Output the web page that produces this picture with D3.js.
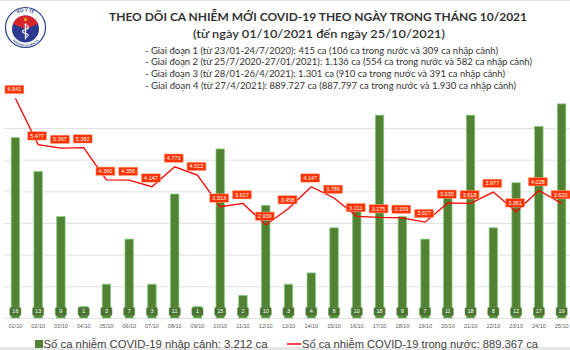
<!DOCTYPE html>
<html>
<head>
<meta charset="utf-8">
<script src="https://cdn.jsdelivr.net/npm/d3@7"></script>
<style>
  body { margin: 0; background: #fff; }
  svg { display: block; }
</style>
</head>
<body>
<div id="chart"></div>
<script>
// days of October 2021
const days = ['01/10','02/10','03/10','04/10','05/10','06/10','07/10','08/10','09/10','10/10',
              '11/10','12/10','13/10','14/10','15/10','16/10','17/10','18/10','19/10','20/10',
              '21/10','22/10','23/10','24/10','25/10'];
// imported cases (green bars)
const imported = [16,13,9,1,3,7,3,11,1,15,2,10,3,4,8,10,18,9,7,11,18,8,12,17,19];
// domestic cases (red line)
const domestic = [6941,5477,5367,5382,4360,4356,4147,4773,4512,3513,3617,2939,3458,4147,3789,
                  3211,3175,3159,3027,3635,3618,3977,3361,4028,3620];
const gridTicks = [0,1000,2000,3000,4000,5000,6000];

const titleText = 'THEO DÕI CA NHIỄM MỚI COVID-19 THEO NGÀY TRONG THÁNG 10/2021';
const subtitleText = '(từ ngày 01/10/2021 đến ngày 25/10/2021)';
const phases = [
  '- Giai đoạn 1 (từ 23/01-24/7/2020): 415 ca (106 ca trong nước và 309 ca nhập cảnh)',
  '- Giai đoạn 2 (từ 25/7/2020-27/01/2021): 1.136 ca (554 ca trong nước và 582 ca nhập cảnh)',
  '- Giai đoạn 3 (từ 28/01-26/4/2021): 1.301 ca (910 ca trong nước và 391 ca nhập cảnh)',
  '- Giai đoạn 4 (từ 27/4/2021): 889.727 ca (887.797 ca trong nước và 1.930 ca nhập cảnh)'
];
const legendBars = 'Số ca nhiễm COVID-19 nhập cảnh: 3.212 ca';
const legendLine = 'Số ca nhiễm COVID-19 trong nước: 889.367 ca';

const width = 570, height = 350;
const fmt = v => d3.format(',')(v).replace(/,/g, '.');

const svg = d3.select('#chart').append('svg')
    .attr('width', width)
    .attr('height', height)
    .style('font-family', 'Lato, "Open Sans", sans-serif');

// thin frame lines top and bottom
svg.append('rect').attr('x', 0).attr('y', 0).attr('width', width).attr('height', 1).attr('fill', '#e4e4e4');
svg.append('rect').attr('x', 0).attr('y', 347).attr('width', width).attr('height', 3).attr('fill', '#e6e6e6');

// scales
const x = d3.scaleBand()
    .domain(days)
    .range([4, 573])
    .paddingInner(0.63)
    .paddingOuter(0.315);

const yBar = d3.scaleLinear().domain([0, 20]).range([318, 92.6]);
const yLine = d3.scaleLinear().domain([0, 6000]).range([318, 128]);

// gridlines
const grid = svg.append('g')
    .attr('transform', 'translate(4,0)')
    .call(d3.axisLeft(yLine).tickValues(gridTicks).tickSize(-566).tickFormat(''));
grid.select('.domain').remove();
grid.selectAll('line').attr('stroke', '#d9d9d9').attr('stroke-width', 0.8);

// x axis labels
const xAxis = svg.append('g')
    .attr('transform', 'translate(0,321)')
    .call(d3.axisBottom(x).tickSize(0));
xAxis.select('.domain').remove();
xAxis.selectAll('text')
    .attr('fill', '#595959')
    .attr('font-size', 5.5)
    .attr('font-family', '"Liberation Sans", Arial, sans-serif');

// bars
svg.append('g').selectAll('rect')
    .data(imported)
    .join('rect')
    .attr('x', (d, i) => x(days[i]))
    .attr('y', d => yBar(d))
    .attr('width', x.bandwidth())
    .attr('height', d => yBar(0) - yBar(d))
    .attr('fill', '#548235')
    .attr('stroke', '#7fd27f')
    .attr('stroke-width', 0.7);

// bar value boxes
const barLab = svg.append('g').selectAll('g')
    .data(imported)
    .join('g')
    .attr('transform', (d, i) => `translate(${x(days[i]) + x.bandwidth() / 2},311.5)`);
barLab.append('rect')
    .attr('x', -5.6).attr('y', -4.2)
    .attr('width', 11.2).attr('height', 8.4)
    .attr('rx', 1.5)
    .attr('fill', '#4a7530')
    .attr('stroke', '#6f9a55')
    .attr('stroke-width', 0.5);
barLab.append('text')
    .attr('text-anchor', 'middle')
    .attr('dy', '0.35em')
    .attr('fill', '#fff')
    .attr('font-size', 5.5)
    .attr('font-family', '"Liberation Sans", Arial, sans-serif')
    .text(d => d);

// domestic line
const line = d3.line()
    .x((d, i) => x(days[i]) + x.bandwidth() / 2)
    .y(d => yLine(d));

svg.append('path')
    .datum(domestic)
    .attr('d', line)
    .attr('fill', 'none')
    .attr('stroke', '#ff0000')
    .attr('stroke-width', 1.3);

// line value boxes
const lineLab = svg.append('g').selectAll('g')
    .data(domestic)
    .join('g')
    .attr('transform', (d, i) => `translate(${x(days[i]) + x.bandwidth() / 2 - 1},${yLine(d) - 8.7})`);
lineLab.append('rect')
    .attr('x', -9.5).attr('y', -4.2)
    .attr('width', 19).attr('height', 8.4)
    .attr('fill', '#ff3300')
    .attr('stroke', '#ffb199')
    .attr('stroke-width', 0.5);
lineLab.append('text')
    .attr('text-anchor', 'middle')
    .attr('dy', '0.35em')
    .attr('fill', '#fff')
    .attr('font-size', 5.5)
    .attr('font-family', '"Liberation Sans", Arial, sans-serif')
    .text(d => fmt(d));

// titles
svg.append('text')
    .attr('x', 109).attr('y', 21)
    .attr('textLength', 418).attr('lengthAdjust', 'spacingAndGlyphs')
    .attr('font-size', 12).attr('font-weight', 700)
    .attr('fill', '#333')
    .text(titleText);
svg.append('text')
    .attr('x', 193).attr('y', 37.5)
    .attr('textLength', 252).attr('lengthAdjust', 'spacingAndGlyphs')
    .attr('font-size', 11.5).attr('font-weight', 600)
    .attr('fill', '#333')
    .text(subtitleText);
const phaseWidths = [353, 387, 360, 371];
svg.append('g').selectAll('text')
    .data(phases)
    .join('text')
    .attr('x', 145)
    .attr('y', (d, i) => 53.5 + i * 11.7)
    .attr('textLength', (d, i) => phaseWidths[i])
    .attr('lengthAdjust', 'spacingAndGlyphs')
    .attr('font-size', 9.5)
    .attr('fill', '#333')
    .text(d => d);

// legend
const lg = svg.append('g').attr('font-family', '"Liberation Sans", Arial, sans-serif');
lg.append('rect').attr('x', 35).attr('y', 340).attr('width', 8).attr('height', 8).attr('fill', '#548235');
lg.append('text').attr('x', 43.5).attr('y', 348)
    .attr('font-size', 11).attr('fill', '#404040')
    .attr('textLength', 224).attr('lengthAdjust', 'spacingAndGlyphs')
    .text(legendBars);
lg.append('line').attr('x1', 287).attr('x2', 301).attr('y1', 344).attr('y2', 344)
    .attr('stroke', '#ff0000').attr('stroke-width', 1.5);
lg.append('text').attr('x', 302).attr('y', 348)
    .attr('font-size', 11).attr('fill', '#404040')
    .attr('textLength', 236).attr('lengthAdjust', 'spacingAndGlyphs')
    .text(legendLine);

// Ministry of Health logo (simplified)
const logo = svg.append('g').attr('transform', 'translate(25.5,27.5)');
logo.append('circle').attr('r', 20).attr('fill', '#fff').attr('stroke', '#27408b').attr('stroke-width', 1.2);
logo.append('circle').attr('r', 13.5).attr('cy', 1.5).attr('fill', '#2b3990');
logo.append('path')
    .attr('d', d3.arc().innerRadius(0).outerRadius(13.5).startAngle(-1.2).endAngle(1.2)())
    .attr('transform', 'translate(0,1.5)')
    .attr('fill', '#d7262e');
logo.append('path')
    .attr('d', d3.symbol(d3.symbolStar, 6)())
    .attr('transform', 'translate(0,-8)')
    .attr('fill', '#ffd200');
// staff and serpent
logo.append('line').attr('x1', 0).attr('x2', 0).attr('y1', -4).attr('y2', 12)
    .attr('stroke', '#fff').attr('stroke-width', 1.3);
logo.append('path')
    .attr('d', 'M-1,-3 C4,-2 4,1 0,2 C-4,3 -4,5 0,6 C4,7 3,9 0,10')
    .attr('fill', 'none').attr('stroke', '#fff').attr('stroke-width', 1.1);
logo.append('path').attr('id', 'arcTop').attr('d', 'M-16,0 A16,16 0 0,1 16,0').attr('fill', 'none');
logo.append('path').attr('id', 'arcBot').attr('d', 'M-17,2 A17,17 0 0,0 17,2').attr('fill', 'none');
logo.append('text').attr('font-size', 4.5).attr('font-weight', 700).attr('fill', '#27408b')
    .append('textPath').attr('href', '#arcTop').attr('startOffset', '50%').attr('text-anchor', 'middle')
    .text('BỘ Y TẾ');
logo.append('text').attr('font-size', 2.8).attr('font-weight', 700).attr('fill', '#27408b')
    .append('textPath').attr('href', '#arcBot').attr('startOffset', '50%').attr('text-anchor', 'middle')
    .attr('dy', 2)
    .text('MINISTRY OF HEALTH');
</script>
</body>
</html>
